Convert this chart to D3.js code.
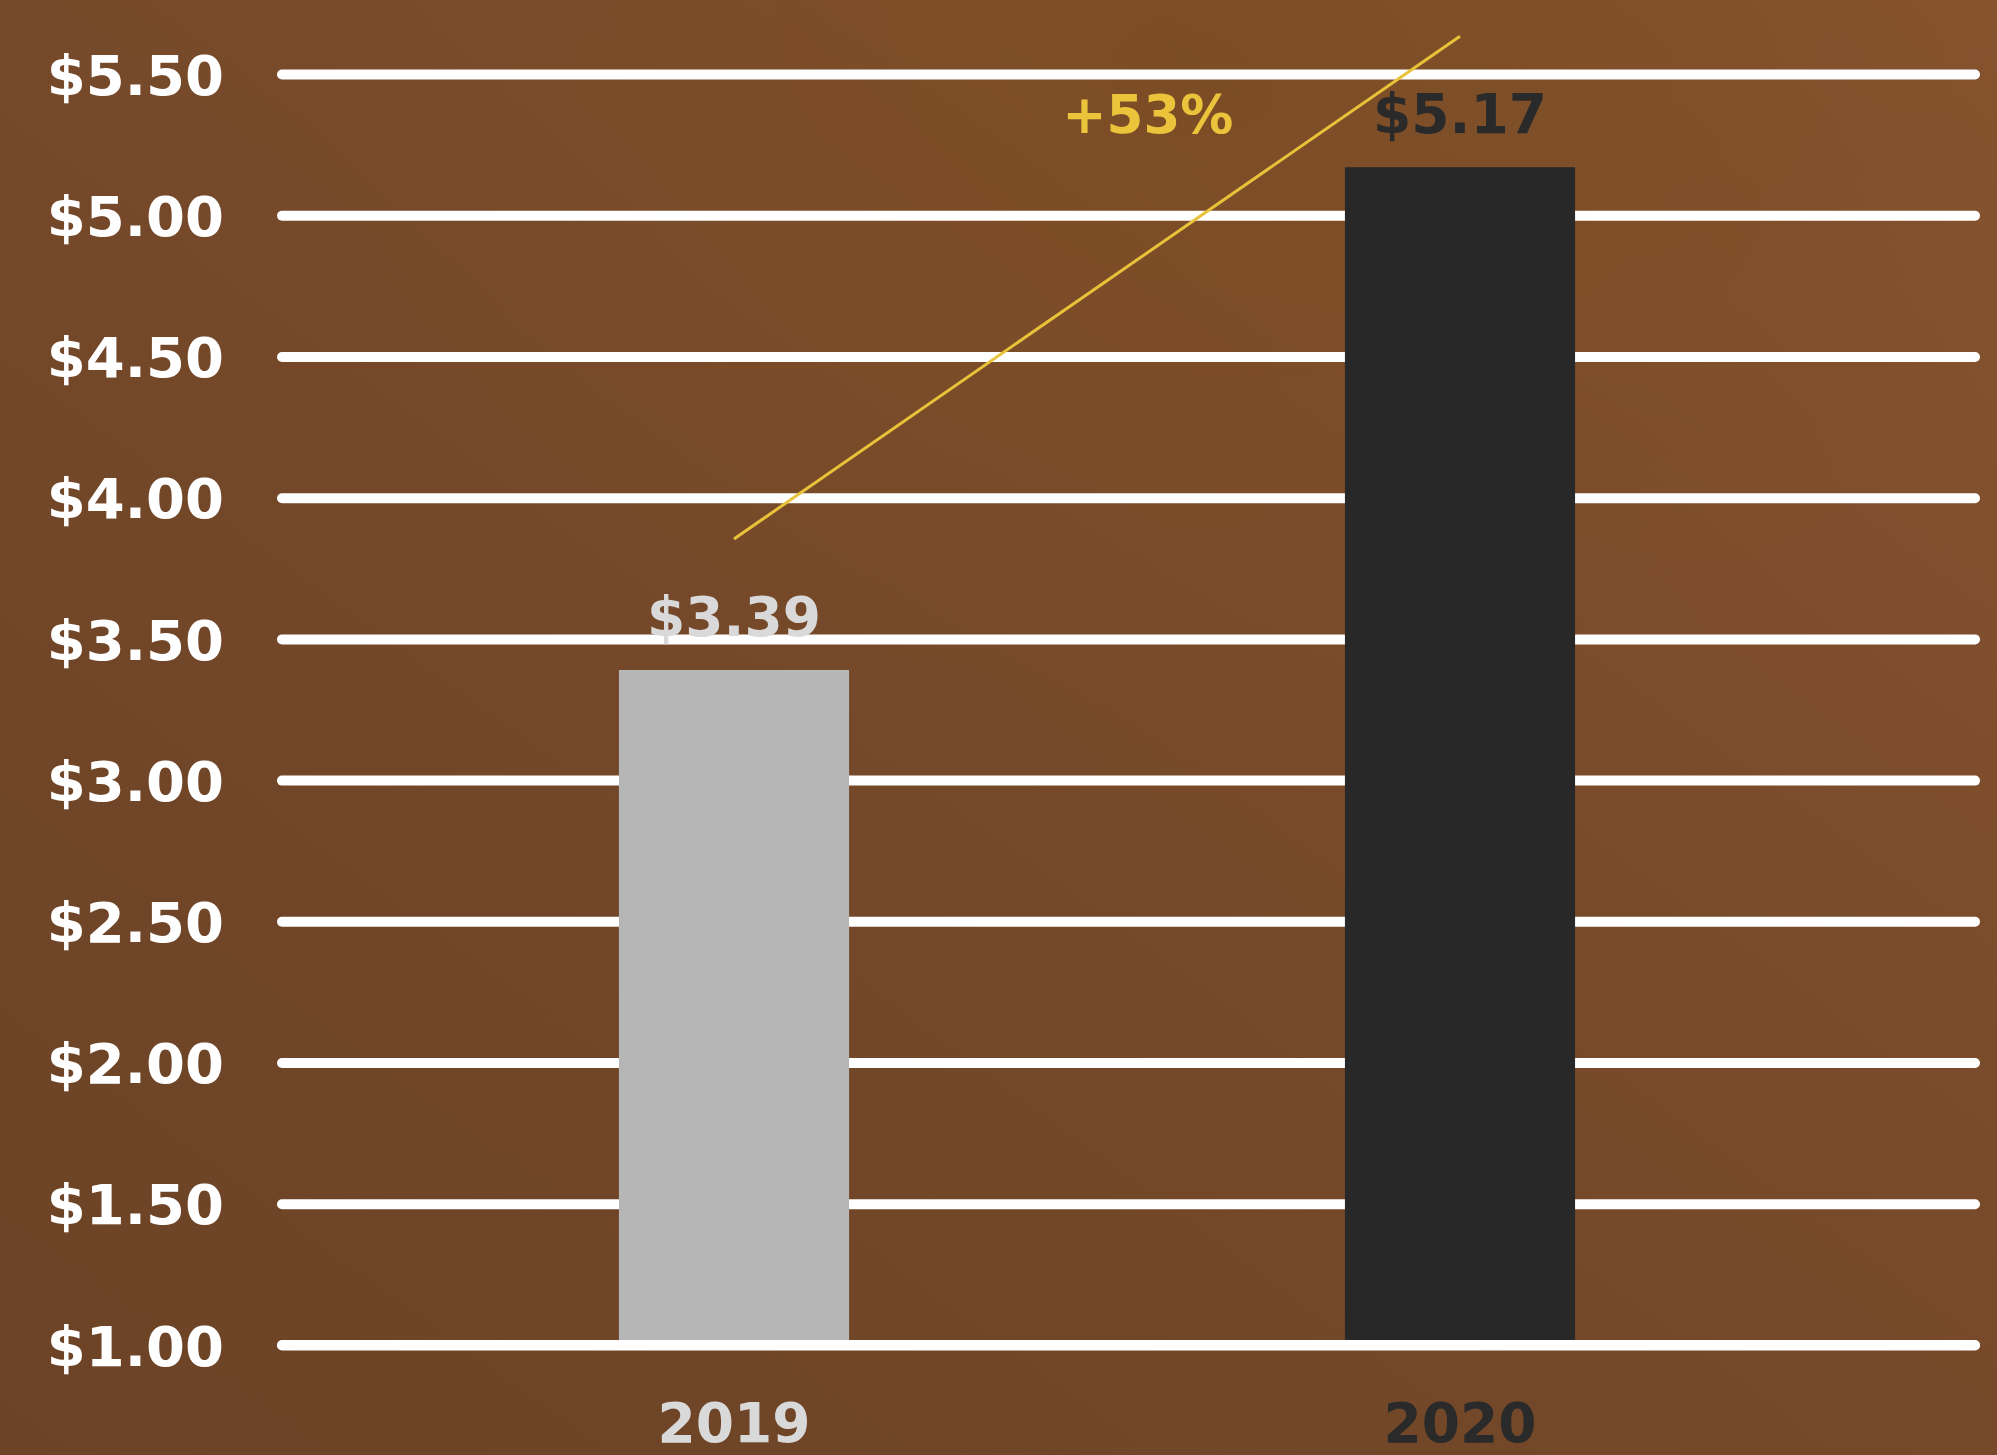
<!DOCTYPE html>
<html>
<head>
<meta charset="utf-8">
<script src="https://cdn.jsdelivr.net/npm/d3@7"></script>
<style>
  html, body { margin: 0; padding: 0; background: #754a2a; }
  svg { display: block; }
  text { font-family: "DejaVu Sans", "Liberation Sans", sans-serif; font-weight: bold; }
</style>
</head>
<body>
<svg id="chart" width="1997" height="1455"></svg>
<script>
// Average price per year
const years = ["2019", "2020"];
const prices = [3.39, 5.17];
const valueLabels = ["$3.39", "$5.17"];
const changeLabel = "+53%";

// Axis ticks
const tickValues = [1.0, 1.5, 2.0, 2.5, 3.0, 3.5, 4.0, 4.5, 5.0, 5.5];
const tickLabels = ["$1.00", "$1.50", "$2.00", "$2.50", "$3.00", "$3.50", "$4.00", "$4.50", "$5.00", "$5.50"];

// Colours per year
const barColors = ["#b6b6b6", "#282828"];
const textColors = ["#d9d9d9", "#2a2a2a"];

const W = 1997, H = 1455;
const svg = d3.select("#chart");

// Background: warm brown wash
const defs = svg.append("defs");
const bg = defs.append("linearGradient").attr("id", "bg")
  .attr("x1", "0").attr("y1", "1").attr("x2", "1").attr("y2", "0");
bg.append("stop").attr("offset", "0%").attr("stop-color", "#6c4326");
bg.append("stop").attr("offset", "45%").attr("stop-color", "#744829");
bg.append("stop").attr("offset", "100%").attr("stop-color", "#87532f");
const glow = defs.append("radialGradient").attr("id", "glow")
  .attr("cx", "0.6").attr("cy", "0.05").attr("r", "0.45");
glow.append("stop").attr("offset", "0%").attr("stop-color", "#7b4d22").attr("stop-opacity", 0.7);
glow.append("stop").attr("offset", "100%").attr("stop-color", "#7b4d22").attr("stop-opacity", 0);

svg.append("rect").attr("width", W).attr("height", H).attr("fill", "url(#bg)");
svg.append("rect").attr("width", W).attr("height", H).attr("fill", "url(#glow)");

// Scales
const gridLeft = 282, gridRight = 1975;
const y = d3.scaleLinear().domain([1.0, 5.5]).range([1345, 74]);
const x = d3.scaleBand().domain(years)
  .range([277, 1917])
  .paddingInner(0.683)
  .paddingOuter(0.471);

// Horizontal gridlines through the y axis generator
const grid = svg.append("g")
  .attr("transform", `translate(${gridLeft},0)`)
  .call(d3.axisRight(y).tickValues(tickValues).tickSize(gridRight - gridLeft).tickFormat(""));
grid.select(".domain").remove();
grid.selectAll(".tick line")
  .attr("stroke", "#ffffff")
  .attr("stroke-width", 10)
  .attr("stroke-linecap", "round");

// Tick labels
const yAxis = svg.append("g")
  .attr("transform", "translate(224,0)")
  .call(d3.axisLeft(y).tickValues(tickValues).tickSize(0).tickPadding(0)
    .tickFormat((d, i) => tickLabels[i]));
yAxis.select(".domain").remove();
yAxis.selectAll(".tick text")
  .attr("fill", "#ffffff")
  .attr("font-size", 56)
  .attr("font-family", "DejaVu Sans, sans-serif")
  .attr("font-weight", "bold")
  .attr("dy", "0.36em");

// Bars
svg.append("g").selectAll("rect")
  .data(prices)
  .join("rect")
  .attr("x", (d, i) => x(years[i]))
  .attr("width", x.bandwidth())
  .attr("y", d => y(d))
  .attr("height", d => y(1.0) - y(d))
  .attr("fill", (d, i) => barColors[i]);

// Baseline drawn over the bar feet
svg.append("line")
  .attr("x1", gridLeft).attr("x2", gridRight)
  .attr("y1", y(1.0)).attr("y2", y(1.0))
  .attr("stroke", "#ffffff").attr("stroke-width", 10).attr("stroke-linecap", "round");

// Growth line between the two bars
const lineLift = 131;
const cx = i => x(years[i]) + x.bandwidth() / 2;
svg.append("line")
  .attr("x1", cx(0)).attr("y1", y(prices[0]) - lineLift)
  .attr("x2", cx(1)).attr("y2", y(prices[1]) - lineLift)
  .attr("stroke", "#e9c23a").attr("stroke-width", 3);

// Value labels above the bars
const labelLift = 34;
svg.append("g").selectAll("text")
  .data(prices)
  .join("text")
  .attr("x", (d, i) => cx(i))
  .attr("y", d => y(d) - labelLift)
  .attr("text-anchor", "middle")
  .attr("font-size", 55)
  .attr("fill", (d, i) => textColors[i])
  .text((d, i) => valueLabels[i]);

// Change label
svg.append("text")
  .attr("x", cx(1) - 0.43 * x.step())
  .attr("y", y(prices[1]) - labelLift)
  .attr("text-anchor", "middle")
  .attr("font-size", 53)
  .attr("fill", "#ebc43c")
  .text(changeLabel);

// Year labels
svg.append("g").selectAll("text")
  .data(years)
  .join("text")
  .attr("x", (d, i) => cx(i))
  .attr("y", 1442)
  .attr("text-anchor", "middle")
  .attr("font-size", 55)
  .attr("fill", (d, i) => textColors[i])
  .text(d => d);
</script>
</body>
</html>
